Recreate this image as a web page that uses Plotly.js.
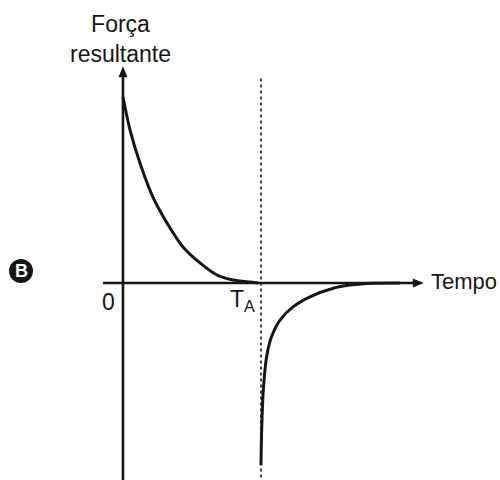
<!DOCTYPE html>
<html>
<head>
<meta charset="utf-8">
<script src="https://cdn.plot.ly/plotly-3.0.1.min.js"></script>
<style>html,body{margin:0;padding:0;background:#fff;}#chart{width:500px;height:480px;}</style>
</head>
<body>
<div id="chart"></div>
<script>
// Time in units of T_A, force normalised to initial value
const tDecay = [0, 0.051, 0.123, 0.217, 0.319, 0.435, 0.558, 0.681, 0.797, 0.920, 0.98];
const fDecay = [1.0, 0.823, 0.645, 0.462, 0.323, 0.194, 0.108, 0.043, 0.016, 0.005, 0];
const tRecover = [1.0, 1.005, 1.017, 1.041, 1.077, 1.138, 1.234, 1.355, 1.524, 1.645, 1.766, 2.007];
const fRecover = [-0.978, -0.790, -0.575, -0.396, -0.288, -0.199, -0.127, -0.074, -0.028, -0.011, -0.002, 0];
const markerT = 1.0;          // T_A
const axisLabels = {x: 'Tempo', y: 'Força<br>resultante', origin: '0', marker: 'T<sub>A</sub>', panel: 'B'};

const ink = '#161616';
const font = {family: '"Liberation Sans", Arial, Helvetica, sans-serif', size: 23, color: ink};

const traces = [
  {x: tDecay, y: fDecay, mode: 'lines', line: {color: ink, width: 3, shape: 'spline', smoothing: 0.7}, hoverinfo: 'skip'},
  {x: tRecover, y: fRecover, mode: 'lines', line: {color: ink, width: 3, shape: 'spline', smoothing: 0.7}, hoverinfo: 'skip'}
];

const xAxisEnd = 2.18, xAxisStart = -0.145;
const yAxisEnd = 1.165, yAxisStart = -1.07;

const layout = {
  width: 500, height: 480,
  margin: {l: 0, r: 0, t: 0, b: 0},
  paper_bgcolor: '#fff', plot_bgcolor: '#fff',
  showlegend: false,
  xaxis: {range: [-0.891, 2.732], visible: false, fixedrange: true},
  yaxis: {range: [-1.059, 1.5215], visible: false, fixedrange: true},
  shapes: [
    // axes
    {type: 'line', xref: 'x', yref: 'y', x0: xAxisStart, x1: xAxisEnd - 0.05, y0: 0, y1: 0,
     line: {color: ink, width: 2.6}},
    {type: 'line', xref: 'x', yref: 'y', x0: 0, x1: 0, y0: yAxisStart, y1: yAxisEnd - 0.04,
     line: {color: ink, width: 2.6}},
    // arrow heads
    {type: 'path', xref: 'x', yref: 'y', xsizemode: 'pixel', ysizemode: 'pixel',
     xanchor: xAxisEnd, yanchor: 0, path: 'M0,0 L-11,4.5 L-11,-4.5 Z',
     fillcolor: ink, line: {width: 0}},
    {type: 'path', xref: 'x', yref: 'y', xsizemode: 'pixel', ysizemode: 'pixel',
     xanchor: 0, yanchor: yAxisEnd, path: 'M0,0 L-4.5,-11 L4.5,-11 Z',
     fillcolor: ink, line: {width: 0}},
    // T_A guide
    {type: 'line', xref: 'x', yref: 'y', x0: markerT, x1: markerT, y0: 1.10, y1: -1.07,
     line: {color: ink, width: 1.6, dash: 'dot'}},
    // panel badge
    {type: 'circle', xref: 'paper', yref: 'paper', xsizemode: 'pixel', ysizemode: 'pixel',
     xanchor: 21 / 500, yanchor: 1 - 271 / 480, x0: -12, x1: 12, y0: -12, y1: 12,
     fillcolor: ink, line: {width: 0}}
  ],
  annotations: [
    {x: 2.22, y: 0.01, xref: 'x', yref: 'y', text: axisLabels.x, showarrow: false,
     xanchor: 'left', yanchor: 'middle', font: Object.assign({}, font, {size: 22})},
    {x: -0.02, y: 1.15, xref: 'x', yref: 'y', text: axisLabels.y, showarrow: false,
     xanchor: 'center', yanchor: 'bottom', align: 'center', font: font},
    {x: -0.108, y: -0.102, xref: 'x', yref: 'y', text: axisLabels.origin, showarrow: false,
     xanchor: 'center', yanchor: 'middle', font: font},
    {x: 0.972, y: -0.095, xref: 'x', yref: 'y', text: axisLabels.marker, showarrow: false,
     xanchor: 'right', yanchor: 'middle', font: font},
    {x: 21 / 500, y: 1 - 271 / 480, xref: 'paper', yref: 'paper', text: '<b>' + axisLabels.panel + '</b>',
     showarrow: false, xanchor: 'center', yanchor: 'middle',
     font: {family: font.family, size: 18, color: '#fff'}}
  ]
};

Plotly.newPlot('chart', traces, layout, {displayModeBar: false, staticPlot: true});
</script>
</body>
</html>
